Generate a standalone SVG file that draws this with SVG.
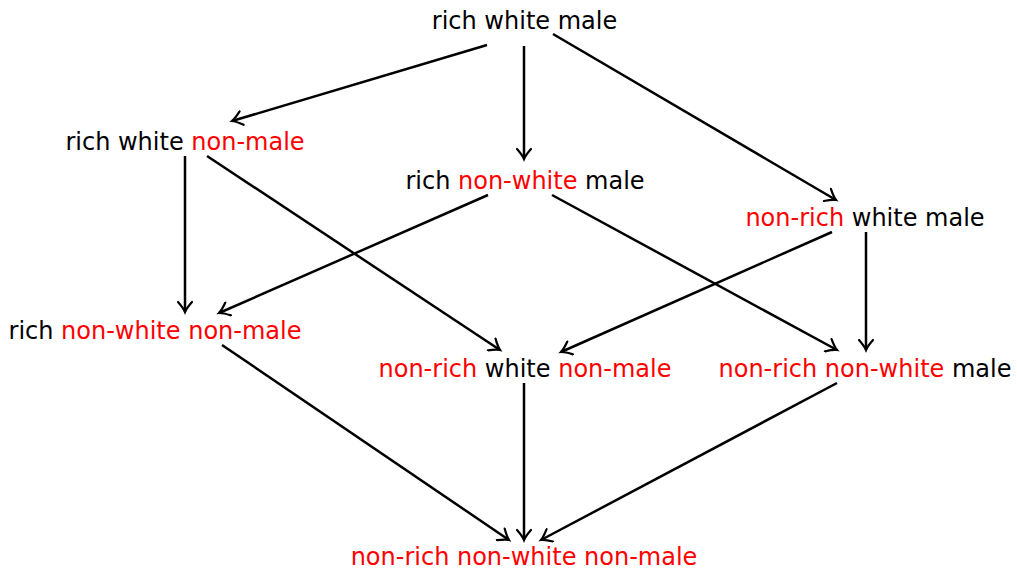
<svg xmlns="http://www.w3.org/2000/svg" width="1017" height="571" viewBox="0 0 1017 571">
<style>
text{font-family:"DejaVu Sans",sans-serif;font-size:24px;fill:#000;text-anchor:middle}
.r{fill:#ff0000}
.e{stroke:#000;stroke-width:2.5;fill:none;marker-end:url(#ah)}
</style>
<defs>
<marker id="ah" markerWidth="16" markerHeight="16" viewBox="-12 -8 14 16" refX="0" refY="0" orient="auto" markerUnits="userSpaceOnUse">
<path d="M-10,-7 C-6,-3.5 -2.5,-1 0,0 C-2.5,1 -6,3.5 -10,7" fill="none" stroke="#000" stroke-width="2.2" stroke-linecap="round"/>
</marker>
</defs>
<rect width="1017" height="571" fill="#fff"/>
<g id="connectors">
<line class="e" x1="487" y1="45" x2="232" y2="121"/>
<line class="e" x1="524" y1="46" x2="524" y2="159"/>
<line class="e" x1="553" y1="34" x2="836" y2="200"/>
<line class="e" x1="185" y1="156" x2="185" y2="312"/>
<line class="e" x1="207" y1="156" x2="500" y2="350"/>
<line class="e" x1="488" y1="195" x2="219" y2="313"/>
<line class="e" x1="552" y1="195" x2="837" y2="350"/>
<line class="e" x1="832" y1="232" x2="561" y2="352"/>
<line class="e" x1="866" y1="232" x2="866" y2="350"/>
<line class="e" x1="222" y1="345" x2="509" y2="540"/>
<line class="e" x1="524" y1="383" x2="524" y2="540"/>
<line class="e" x1="837" y1="383" x2="541" y2="540"/>
</g>
<g id="n1"><text x="524.5" y="29">rich white male</text></g>
<g id="n2"><text x="185" y="150">rich white <tspan class="r">non-male</tspan></text></g>
<g id="n3"><text x="525" y="189">rich <tspan class="r">non-white</tspan> male</text></g>
<g id="n4"><text x="865" y="226"><tspan class="r">non-rich</tspan> white male</text></g>
<g id="n5"><text x="155" y="339"><tspan>rich </tspan><tspan class="r">non-white non-male</tspan></text></g>
<g id="n6"><text x="525" y="377"><tspan class="r">non-rich</tspan> white <tspan class="r">non-male</tspan></text></g>
<g id="n7"><text x="865" y="377"><tspan class="r">non-rich non-white</tspan> male</text></g>
<g id="n8"><text x="524" y="565" class="r">non-rich non-white non-male</text></g>
</svg>
